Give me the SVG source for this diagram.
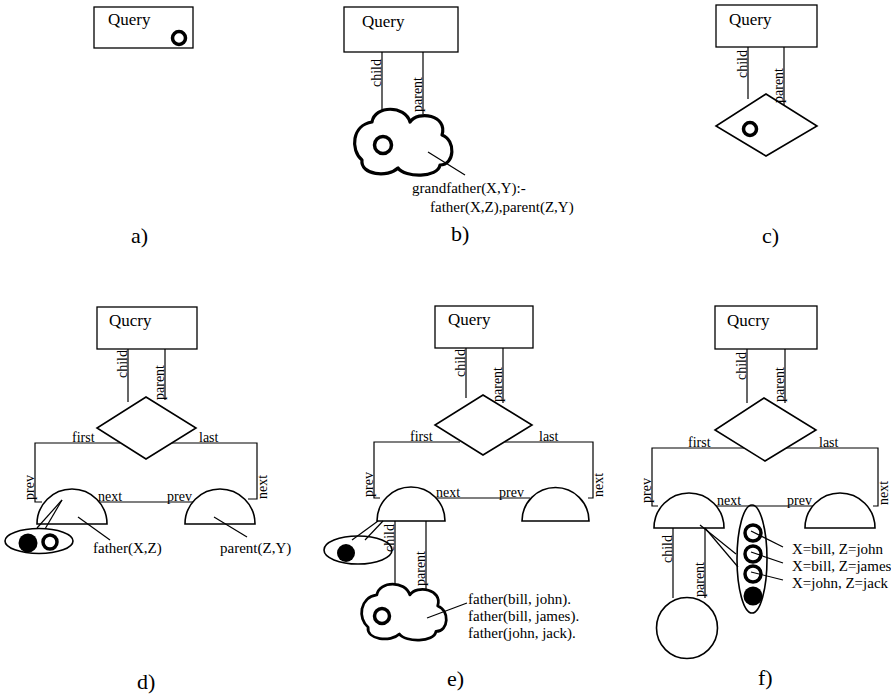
<svg xmlns="http://www.w3.org/2000/svg" xmlns:xlink="http://www.w3.org/1999/xlink" width="891" height="700" viewBox="0 0 891 700">
  <style>
    text { font-family: "Liberation Serif", "Times New Roman", serif; fill: #000; }
    .q { font-size: 17px; }
    .lbl { font-size: 14px; }
    .note { font-size: 15px; }
    .cap { font-size: 22px; }
    .box { fill: #fff; stroke: #000; stroke-width: 1.3; }
    .shape { fill: #fff; stroke: #000; stroke-width: 1.6; }
    .edge { fill: none; stroke: #000; stroke-width: 1.2; }
    .ring { fill: none; stroke: #000; stroke-width: 3.5; }
    .dot { fill: #000; }
    .cloud { fill: #fff; stroke: #000; stroke-width: 3.2; stroke-linejoin: round; }
  </style>
  <defs>
    <!-- cloud outline, local box about 97 x 64 -->
    <path id="cloudShape" d="M 7 52 C -5 42, -3 17, 17 14 C 20 -3, 50 -3, 55 14 C 63 2, 93 7, 87 27 C 101 32, 100 57, 85 57 C 83 70, 50 70, 43 60 C 33 70, 5 67, 7 52 Z"/>
  </defs>

  <rect width="891" height="700" fill="#fff"/>

  <!-- ===== a) ===== -->
  <g id="a-query">
    <rect class="box" x="94" y="7" width="99" height="41"/>
    <text class="q" x="108" y="25">Query</text>
    <circle class="ring" cx="179" cy="38" r="6.5"/>
  </g>

  <!-- ===== b) ===== -->
  <g id="b-query">
    <rect class="box" x="344" y="7" width="114" height="45"/>
    <text class="q" x="362" y="27">Query</text>
  </g>
  <g id="b-rule">
    <use xlink:href="#cloudShape" class="cloud" transform="translate(355,108)"/>
    <circle class="ring" cx="383" cy="145" r="8.5"/>
    <text class="note" x="412" y="193">grandfather(X,Y):-</text>
    <text class="note" x="430" y="212">father(X,Z),parent(Z,Y)</text>
  </g>

  <!-- ===== c) ===== -->
  <g id="c-query">
    <rect class="box" x="716" y="5" width="101" height="42"/>
    <text class="q" x="729" y="25">Query</text>
  </g>
  <g id="c-and">
    <polygon class="shape" points="766,94 817,126 766,156 716,126"/>
    <circle class="ring" cx="750" cy="129" r="6.5"/>
  </g>

  <!-- ===== d) ===== -->
  <g id="d-query">
    <rect class="box" x="97" y="307" width="100" height="42"/>
    <text class="q" x="109" y="326">Qucry</text>
  </g>
  <g id="d-and">
    <polygon class="shape" points="146,397 196,428 146,459 97,428"/>
  </g>
  <g id="d-goal1">
    <path class="shape" d="M 37 524 A 35 35 0 0 1 107 524 Z"/>
  </g>
  <g id="d-goal2">
    <path class="shape" d="M 185 524 A 35 35 0 0 1 255 524 Z"/>
  </g>
  <g id="d-states">
    <ellipse class="shape" cx="39" cy="541" rx="34" ry="12.5" stroke-width="1.2"/>
    <circle class="dot" cx="28" cy="543" r="9.5"/>
    <circle class="ring" cx="50" cy="542" r="7"/>
  </g>
  <g id="d-notes" class="note">
    <text x="93" y="553">father(X,Z)</text>
    <text x="220" y="553">parent(Z,Y)</text>
  </g>

  <!-- ===== e) ===== -->
  <g id="e-query">
    <rect class="box" x="435" y="306" width="98" height="42"/>
    <text class="q" x="448" y="325">Query</text>
  </g>
  <g id="e-and">
    <polygon class="shape" points="483,395 532,425 483,455 435,425"/>
  </g>
  <g id="e-goal1">
    <path class="shape" d="M 377 521 A 34 34 0 0 1 445 521 Z"/>
  </g>
  <g id="e-goal2">
    <path class="shape" d="M 522 521 A 33.5 33.5 0 0 1 589 521 Z"/>
  </g>
  <g id="e-states">
    <ellipse class="shape" cx="358" cy="550" rx="34" ry="14" stroke-width="1.2"/>
    <circle class="dot" cx="346" cy="553" r="9"/>
  </g>
  <g id="e-facts">
    <use xlink:href="#cloudShape" class="cloud" transform="translate(362,583) scale(0.87,0.85)"/>
    <circle class="ring" cx="382" cy="616" r="7.5"/>
    <g class="note">
      <text x="468" y="604">father(bill, john).</text>
      <text x="468" y="621">father(bill, james).</text>
      <text x="468" y="638">father(john, jack).</text>
    </g>
  </g>

  <!-- ===== f) ===== -->
  <g id="f-query">
    <rect class="box" x="715" y="306" width="102" height="43"/>
    <text class="q" x="727" y="326">Qucry</text>
  </g>
  <g id="f-and">
    <polygon class="shape" points="764,398 816,430 765,461 715,430"/>
  </g>
  <g id="f-goal1">
    <path class="shape" d="M 654 528 A 35 35 0 0 1 724 528 Z"/>
  </g>
  <g id="f-goal2">
    <path class="shape" d="M 805 528 A 35 35 0 0 1 875 528 Z"/>
  </g>
  <g id="f-child">
    <circle class="shape" cx="687" cy="628" r="30.5"/>
  </g>
  <g id="f-states">
    <ellipse class="shape" cx="752" cy="559" rx="15" ry="54" stroke-width="1.2"/>
    <circle class="ring" cx="753" cy="533" r="8"/>
    <circle class="ring" cx="753" cy="554" r="8"/>
    <circle class="ring" cx="753" cy="574" r="8"/>
    <circle class="dot" cx="753" cy="596" r="9.5"/>
  </g>
  <g id="f-bindings" class="note">
    <text x="792" y="554">X=bill, Z=john</text>
    <text x="792" y="571">X=bill, Z=james</text>
    <text x="792" y="588">X=john, Z=jack</text>
  </g>

  <!-- ===== connectors (drawn over the nodes so pointers reach inside) ===== -->
  <g id="connectors" class="edge">
    <!-- b -->
    <line x1="382" y1="52" x2="382" y2="112"/>
    <line x1="423" y1="52" x2="423" y2="114"/>
    <line x1="428" y1="152" x2="465" y2="175"/>
    <!-- c -->
    <line x1="748" y1="47" x2="748" y2="99"/>
    <line x1="784" y1="47" x2="784" y2="105"/>
    <!-- d -->
    <line x1="128" y1="349" x2="128" y2="402"/>
    <line x1="165" y1="349" x2="165" y2="400"/>
    <polyline points="120,443 35,443 35,502 42,502"/>
    <polyline points="172,443 257,443 257,499 248,499"/>
    <line x1="99" y1="502" x2="193" y2="502"/>
    <line x1="37" y1="528" x2="62" y2="500"/>
    <line x1="45" y1="529" x2="62" y2="500"/>
    <line x1="78" y1="517" x2="110" y2="540"/>
    <line x1="214" y1="517" x2="247" y2="537"/>
    <!-- e -->
    <line x1="466" y1="348" x2="466" y2="398"/>
    <line x1="503" y1="348" x2="503" y2="403"/>
    <polyline points="460,442 374,442 374,498 380,498"/>
    <polyline points="505,442 593,442 593,498 588,498"/>
    <line x1="436" y1="498" x2="530" y2="498"/>
    <line x1="395" y1="521" x2="395" y2="585"/>
    <line x1="426" y1="521" x2="426" y2="590"/>
    <line x1="378" y1="521" x2="352" y2="540"/>
    <line x1="383" y1="521" x2="365" y2="540"/>
    <line x1="427" y1="618" x2="467" y2="603"/>
    <!-- f -->
    <line x1="747" y1="349" x2="747" y2="403"/>
    <line x1="785" y1="349" x2="785" y2="403"/>
    <polyline points="744,448 652,448 652,506 658,506"/>
    <polyline points="786,448 878,448 878,506 873,506"/>
    <line x1="716" y1="506" x2="813" y2="506"/>
    <line x1="673" y1="528" x2="673" y2="598"/>
    <line x1="705" y1="528" x2="705" y2="598"/>
    <line x1="700" y1="525" x2="736" y2="554"/>
    <line x1="705" y1="528" x2="738" y2="567"/>
    <line x1="751" y1="531" x2="783" y2="547"/>
    <line x1="751" y1="552" x2="783" y2="563"/>
    <line x1="751" y1="572" x2="783" y2="580"/>
  </g>

  <!-- ===== edge labels ===== -->
  <g id="edge-labels" class="lbl">
    <!-- b -->
    <text transform="translate(381,87) rotate(-90)">child</text>
    <text transform="translate(422,112) rotate(-90)">parent</text>
    <!-- c -->
    <text transform="translate(747,78) rotate(-90)">child</text>
    <text transform="translate(783,103) rotate(-90)">parent</text>
    <!-- d -->
    <text transform="translate(127,378) rotate(-90)">child</text>
    <text transform="translate(164,400) rotate(-90)">parent</text>
    <text x="72" y="442">first</text>
    <text x="199" y="442">last</text>
    <text transform="translate(34,500) rotate(-90)">prev</text>
    <text transform="translate(267,499) rotate(-90)">next</text>
    <text x="98" y="501">next</text>
    <text x="167" y="501">prev</text>
    <!-- e -->
    <text transform="translate(465,377) rotate(-90)">child</text>
    <text transform="translate(502,402) rotate(-90)">parent</text>
    <text x="410" y="441">first</text>
    <text x="539" y="441">last</text>
    <text transform="translate(373,497) rotate(-90)">prev</text>
    <text transform="translate(603,497) rotate(-90)">next</text>
    <text x="436" y="497">next</text>
    <text x="499" y="497">prev</text>
    <text transform="translate(394,552) rotate(-90)">child</text>
    <text transform="translate(425,586) rotate(-90)">parent</text>
    <!-- f -->
    <text transform="translate(746,380) rotate(-90)">child</text>
    <text transform="translate(784,402) rotate(-90)">parent</text>
    <text x="688" y="447">first</text>
    <text x="819" y="447">last</text>
    <text transform="translate(651,503) rotate(-90)">prev</text>
    <text transform="translate(888,505) rotate(-90)">next</text>
    <text x="717" y="505">next</text>
    <text x="787" y="505">prev</text>
    <text transform="translate(672,563) rotate(-90)">child</text>
    <text transform="translate(704,597) rotate(-90)">parent</text>
  </g>

  <!-- ===== captions ===== -->
  <g id="captions" class="cap">
    <text x="131" y="243">a)</text>
    <text x="451" y="241">b)</text>
    <text x="762" y="243">c)</text>
    <text x="137" y="689">d)</text>
    <text x="447" y="686">e)</text>
    <text x="758" y="685">f)</text>
  </g>
</svg>
